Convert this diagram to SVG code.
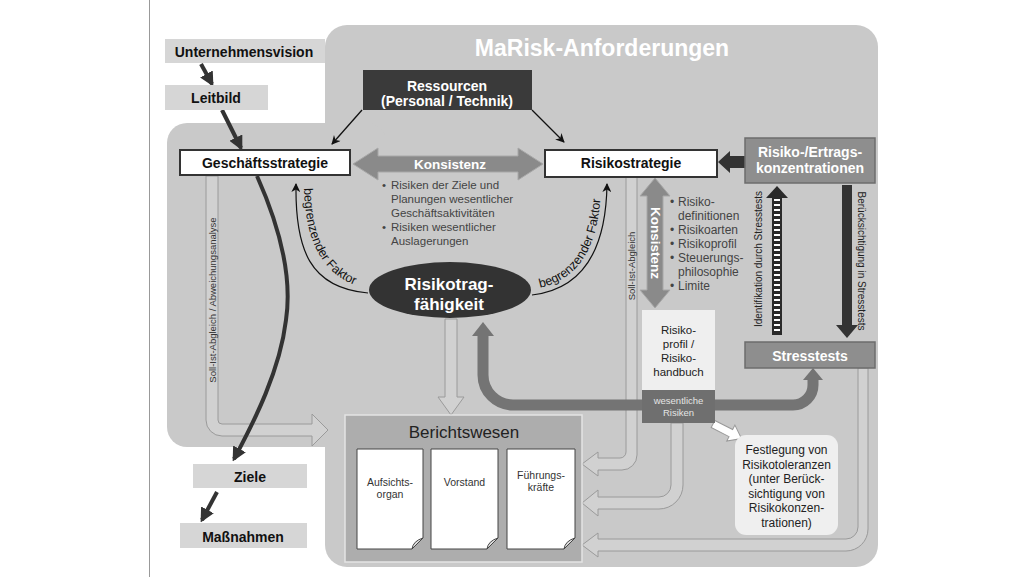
<svg xmlns="http://www.w3.org/2000/svg" width="1028" height="577" viewBox="0 0 1028 577">
<defs>
<style>
.t{font-family:"Liberation Sans",Arial,sans-serif;}
.b{font-family:"Liberation Sans",Arial,sans-serif;font-weight:bold;}
.lbl{font-size:14px;fill:#111;text-anchor:middle;}
.wlbl{font-size:14px;fill:#fff;text-anchor:middle;}
.bul{font-size:11.5px;fill:#444;}
.doc{font-size:10.5px;fill:#333;text-anchor:middle;}
.lightbox{fill:#d6d6d6;}
.band{fill:#d1d1d1;stroke:#9a9a9a;stroke-width:1;}
.greybox{fill:#8e8e8e;stroke:#6c6c6c;stroke-width:1.5;}
.strat{fill:#fff;stroke:#333;stroke-width:2;}
.paper{fill:#fff;stroke:#444;stroke-width:1;}
.fold{fill:#ddd;stroke:#444;stroke-width:1;}
</style>
<marker id="hd" viewBox="0 0 10 10" refX="8" refY="5" markerWidth="3.6" markerHeight="3.6" orient="auto"><path d="M0,0 L10,5 L0,10 z" fill="#333"/></marker>
<marker id="thin" viewBox="0 0 10 10" refX="9" refY="5" markerWidth="11" markerHeight="9" markerUnits="userSpaceOnUse" orient="auto"><path d="M0,0 L10,5 L0,10 L3,5 z" fill="#111"/></marker>
</defs>
<rect width="1028" height="577" fill="#fff"/>
<line x1="149.5" y1="0" x2="149.5" y2="577" stroke="#999" stroke-width="1"/>

<g id="background">
<rect x="325" y="25" width="553" height="542" rx="22" fill="#c9c9c9"/>
<rect x="167" y="123" width="220" height="324" rx="20" fill="#c9c9c9"/>
<text class="b" x="602" y="56" font-size="23" fill="#fff" text-anchor="middle">MaRisk-Anforderungen</text>
</g>

<g id="connectors">
<path class="band" d="M206,176 V420 A16,16 0 0 0 222,436 H312 V446 L328,430 L312,414 V424 H222 A4,4 0 0 1 218,420 V176 Z"/>
<text class="t" transform="translate(215.5,300) rotate(-90)" font-size="9.5" fill="#333" text-anchor="middle">Soll-Ist-Abgleich / Abweichungsanalyse</text>
<path class="band" d="M626,177 V452 A6,6 0 0 1 620,458 H598 V452 L582,464 L598,476 V470 H622 A15,15 0 0 0 637,455 V177 Z"/>
<text class="t" transform="translate(634.5,266) rotate(-90)" font-size="9.5" fill="#333" text-anchor="middle">Soll-Ist-Abgleich</text>
<path class="band" d="M671,423 V485 A12,12 0 0 1 659,497 H598 V490 L582,503 L598,516 V509 H659 A24,24 0 0 0 683,485 V423 Z"/>
<path class="band" d="M858,368 V527 A12,12 0 0 1 846,539 H598 V533 L582,545 L598,557 V551 H846 A22,22 0 0 0 868,529 V368 Z"/>
<polygon class="band" points="445,319 457,319 457,397 464,397 451,415 438,397 445,397"/>
<path d="M650,405 H513 A30,30 0 0 1 483,375 V334" fill="none" stroke="#747474" stroke-width="11"/>
<polygon points="472,336 483,322 494,336" fill="#747474"/>
<path d="M710,405 H793 A20,20 0 0 0 813,385 V378" fill="none" stroke="#747474" stroke-width="11"/>
<polygon points="803,380 813,368 823,380" fill="#747474"/>
<line x1="201" y1="64" x2="212" y2="84" stroke="#333" stroke-width="4" marker-end="url(#hd)"/>
<line x1="222" y1="110" x2="241" y2="148" stroke="#333" stroke-width="4" marker-end="url(#hd)"/>
<path d="M257,176 C282,232 292,280 286,320 C280,370 255,420 234,459" fill="none" stroke="#333" stroke-width="4" marker-end="url(#hd)"/>
<line x1="217" y1="492" x2="202" y2="520" stroke="#333" stroke-width="4" marker-end="url(#hd)"/>
<line x1="362" y1="110" x2="332" y2="144" stroke="#111" stroke-width="1.3" marker-end="url(#thin)"/>
<line x1="532" y1="110" x2="564" y2="142" stroke="#111" stroke-width="1.3" marker-end="url(#thin)"/>
<path d="M368,293 C310,288 295,250 296,184" fill="none" stroke="#111" stroke-width="1.2" marker-end="url(#thin)"/>
<path d="M532,295 C575,290 606,260 607,184" fill="none" stroke="#111" stroke-width="1.2" marker-end="url(#thin)"/>
<path id="tpL" d="M304,186 C305,243 323,279 368,289" fill="none"/>
<path id="tpR" d="M538,288 C575,281 601,252 601,180" fill="none"/>
<text class="t" font-size="12.5" fill="#111"><textPath href="#tpL" startOffset="2">begrenzender Faktor</textPath></text>
<text class="t" font-size="12.5" fill="#111"><textPath href="#tpR" startOffset="2">begrenzender Faktor</textPath></text>
<polygon points="353,164 378,148 378,156 518,156 518,148 543,164 518,180 518,172 378,172 378,180" fill="#8a8a8a" stroke="#a8a8a8" stroke-width="1"/>
<text class="b" x="450" y="168.5" font-size="13.5" fill="#fff" text-anchor="middle">Konsistenz</text>
<polygon points="655,178 670,196 663,196 663,290 670,290 655,308 640,290 647,290 647,196 640,196" fill="#8a8a8a" stroke="#a8a8a8" stroke-width="1"/>
<text class="b" transform="translate(650.5,243) rotate(90)" font-size="13.5" fill="#fff" text-anchor="middle">Konsistenz</text>
<polygon points="745,156 730,156 730,151 718,162 730,173 730,168 745,168" fill="#333"/>
<rect x="772" y="197" width="10" height="138" fill="#2a2a2a"/>
<line x1="777" y1="199" x2="777" y2="334" stroke="#fff" stroke-width="6" stroke-dasharray="2 3"/>
<polygon points="766,198 777,186 788,198" fill="#2a2a2a"/>
<text class="t" transform="translate(762,259) rotate(-90)" font-size="10" fill="#222" text-anchor="middle">Identifikation durch Stresstests</text>
<rect x="842" y="185" width="10" height="141" fill="#333"/>
<polygon points="836,325 847,338 858,325" fill="#333"/>
<text class="t" transform="translate(858,261) rotate(90)" font-size="10" fill="#222" text-anchor="middle">Berücksichtigung in Stresstests</text>
<polygon transform="translate(713,424) rotate(27)" points="0,-4 20,-4 20,-9 32,0 20,9 20,4 0,4" fill="#fff" stroke="#999" stroke-width="1"/>
</g>

<g id="unternehmensvision">
<rect class="lightbox" x="165" y="39" width="160" height="24"/>
<text class="b lbl" x="244" y="57">Unternehmensvision</text>
</g>
<g id="leitbild">
<rect class="lightbox" x="165" y="85" width="103" height="25"/>
<text class="b lbl" x="216" y="103">Leitbild</text>
</g>
<g id="ziele">
<rect class="lightbox" x="193" y="464" width="114" height="24"/>
<text class="b lbl" x="250" y="482">Ziele</text>
</g>
<g id="massnahmen">
<rect class="lightbox" x="180" y="523" width="127" height="25"/>
<text class="b lbl" x="243" y="542">Maßnahmen</text>
</g>
<g id="ressourcen">
<rect x="363" y="70" width="169" height="40" fill="#3a3a3a"/>
<text class="b wlbl" x="447" y="91">Ressourcen</text>
<text class="b wlbl" x="447" y="106">(Personal / Technik)</text>
</g>
<g id="geschaeftsstrategie">
<rect class="strat" x="180" y="150" width="170" height="25"/>
<text class="b lbl" x="265" y="168">Geschäftsstrategie</text>
</g>
<g id="risikostrategie">
<rect class="strat" x="545" y="150" width="172" height="27"/>
<text class="b lbl" x="631" y="168">Risikostrategie</text>
</g>
<g id="konsistenz-text">
<text class="t bul"><tspan x="382" y="189">•</tspan><tspan x="391" y="189">Risiken der Ziele und</tspan><tspan x="391" y="203">Planungen wesentlicher</tspan><tspan x="391" y="217">Geschäftsaktivitäten</tspan><tspan x="382" y="231">•</tspan><tspan x="391" y="231">Risiken wesentlicher</tspan><tspan x="391" y="245">Auslagerungen</tspan></text>
</g>
<g id="risikotragfaehigkeit">
<ellipse cx="450" cy="290" rx="81" ry="28" fill="#333"/>
<text class="b" x="449" y="290" font-size="17" fill="#fff" text-anchor="middle">Risikotrag-</text>
<text class="b" x="449" y="310" font-size="17" fill="#fff" text-anchor="middle">fähigkeit</text>
</g>
<g id="risiko-liste">
<text class="t" font-size="12" fill="#444"><tspan x="670" y="206">•</tspan><tspan x="678" y="206">Risiko-</tspan><tspan x="678" y="220">definitionen</tspan><tspan x="670" y="234">•</tspan><tspan x="678" y="234">Risikoarten</tspan><tspan x="670" y="248">•</tspan><tspan x="678" y="248">Risikoprofil</tspan><tspan x="670" y="262">•</tspan><tspan x="678" y="262">Steuerungs-</tspan><tspan x="678" y="276">philosophie</tspan><tspan x="670" y="290">•</tspan><tspan x="678" y="290">Limite</tspan></text>
</g>
<g id="ertragskonzentrationen">
<rect class="greybox" x="745" y="138" width="130" height="45"/>
<text class="b wlbl" x="810" y="157">Risiko-/Ertrags-</text>
<text class="b wlbl" x="810" y="173">konzentrationen</text>
</g>
<g id="stresstests">
<rect class="greybox" x="745" y="342" width="130" height="26"/>
<text class="b wlbl" x="810" y="361">Stresstests</text>
</g>
<g id="risikoprofil">
<rect x="642" y="310" width="73" height="80" fill="#efefef"/>
<text class="t" font-size="11.5" fill="#222" text-anchor="middle"><tspan x="678.5" y="334">Risiko-</tspan><tspan x="678.5" y="348">profil /</tspan><tspan x="678.5" y="362">Risiko-</tspan><tspan x="678.5" y="376">handbuch</tspan></text>
</g>
<g id="wesentliche-risiken">
<rect x="642" y="390" width="73" height="33" fill="#6f6f6f"/>
<text class="t" font-size="9.5" fill="#e4e4e4" text-anchor="middle"><tspan x="678.5" y="404">wesentliche</tspan><tspan x="678.5" y="416">Risiken</tspan></text>
</g>
<g id="festlegung">
<rect x="735" y="435" width="103" height="100" rx="11" fill="#efefef"/>
<text class="t" font-size="12" fill="#222" text-anchor="middle"><tspan x="786.5" y="454">Festlegung von</tspan><tspan x="786.5" y="468.5">Risikotoleranzen</tspan><tspan x="786.5" y="483">(unter Berück-</tspan><tspan x="786.5" y="497.5">sichtigung von</tspan><tspan x="786.5" y="512">Risikokonzen-</tspan><tspan x="786.5" y="526.5">trationen)</tspan></text>
</g>
<g id="berichtswesen">
<rect x="345" y="415" width="237" height="147" fill="#adadad" stroke="#e4e4e4" stroke-width="1.5"/>
<text class="t" x="464" y="438" font-size="17" fill="#222" text-anchor="middle">Berichtswesen</text>
<g id="aufsichtsorgan">
<path class="paper" d="M357,449 H423 V538 L412,549 H357 Z"/>
<path class="fold" d="M423,538 L412,549 Q413,541 423,538 Z"/>
<text class="t doc"><tspan x="390" y="486">Aufsichts-</tspan><tspan x="390" y="498">organ</tspan></text>
</g>
<g id="vorstand">
<path class="paper" d="M431,449 H498 V538 L487,549 H431 Z"/>
<path class="fold" d="M498,538 L487,549 Q488,541 498,538 Z"/>
<text class="t doc" x="464.5" y="486">Vorstand</text>
</g>
<g id="fuehrungskraefte">
<path class="paper" d="M507,449 H575 V538 L564,549 H507 Z"/>
<path class="fold" d="M575,538 L564,549 Q565,541 575,538 Z"/>
<text class="t doc"><tspan x="541" y="479">Führungs-</tspan><tspan x="541" y="491">kräfte</tspan></text>
</g>
</g>
</svg>
